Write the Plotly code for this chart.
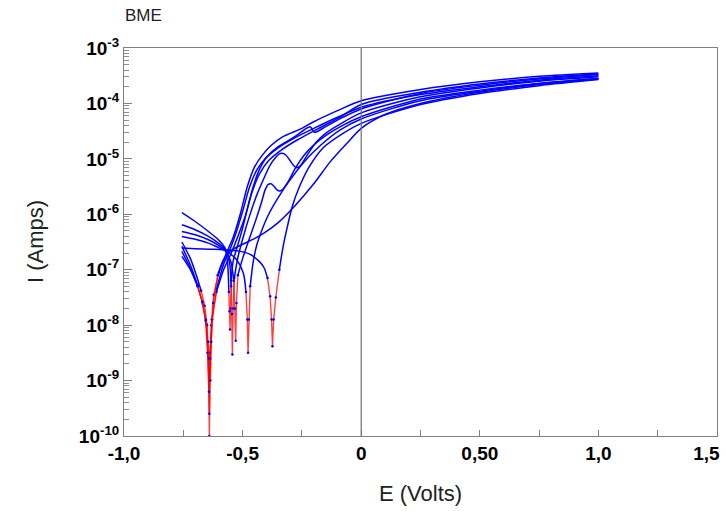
import plotly.graph_objects as go

# potential (V) and log10 of current (A), one pair per scan
E_c1 = [-0.756, -0.72, -0.69, -0.668, -0.653, -0.645, -0.640, -0.637, -0.632, -0.622, -0.60, -0.57,
        -0.54, -0.51, -0.48, -0.45, -0.42, -0.38, -0.33, -0.25, -0.20, -0.10, 0.0, 0.25, 0.50, 0.75, 1.0]
LOGI_c1 = [-6.58, -6.92, -7.28, -7.62, -7.98, -8.55, -10.0, -8.7, -8.0, -7.45, -7.05, -6.72,
           -6.42, -6.0, -5.5, -5.15, -4.95, -4.76, -4.6, -4.45, -4.33, -4.13, -3.95, -3.75, -3.61, -3.51, -3.45]

E_c2 = [-0.756, -0.72, -0.695, -0.675, -0.66, -0.65, -0.644, -0.640, -0.636, -0.628, -0.61, -0.58,
        -0.55, -0.525, -0.50, -0.47, -0.44, -0.40, -0.35, -0.28, -0.215, -0.198, -0.15, -0.10, 0.0,
        0.25, 0.50, 0.75, 1.0]
LOGI_c2 = [-6.50, -6.8, -7.1, -7.38, -7.65, -8.0, -8.6, -9.6, -8.6, -7.9, -7.35, -6.9,
           -6.6, -6.3, -5.95, -5.5, -5.2, -4.97, -4.78, -4.6, -4.42, -4.52, -4.42, -4.3, -4.1,
           -3.82, -3.67, -3.56, -3.48]

E_c3 = [-0.756, -0.72, -0.69, -0.67, -0.656, -0.648, -0.642, -0.638, -0.63, -0.61, -0.58, -0.55,
        -0.52, -0.49, -0.46, -0.43, -0.39, -0.34, -0.27, -0.18, -0.09, 0.0, 0.25, 0.50, 0.75, 1.0]
LOGI_c3 = [-6.76, -7.0, -7.28, -7.58, -7.92, -8.5, -9.2, -8.5, -7.9, -7.4, -7.0, -6.72,
           -6.4, -6.05, -5.6, -5.28, -5.03, -4.85, -4.66, -4.45, -4.25, -4.02, -3.8, -3.65, -3.54, -3.47]

E_c4 = [-0.756, -0.72, -0.69, -0.67, -0.655, -0.645, -0.640, -0.636, -0.632, -0.624, -0.605, -0.58,
        -0.55, -0.50, -0.45, -0.41, -0.35, -0.28, -0.20, -0.13, -0.06, 0.0, 0.10, 0.25, 0.50, 0.75, 1.0]
LOGI_c4 = [-6.67, -6.98, -7.3, -7.58, -7.9, -8.3, -8.6, -9.0, -8.3, -7.6, -7.1, -6.82,
           -6.66, -6.54, -6.44, -6.34, -6.15, -5.85, -5.45, -5.05, -4.72, -4.45, -4.2, -4.0, -3.8, -3.66, -3.56]

E_c5 = [-0.756, -0.70, -0.644, -0.602, -0.574, -0.563, -0.558, -0.555, -0.553, -0.551, -0.548, -0.54,
        -0.52, -0.50, -0.48, -0.455, -0.43, -0.40, -0.35, -0.28, -0.20, -0.10, 0.0, 0.25, 0.50, 0.75, 1.0]
LOGI_c5 = [-5.97, -6.13, -6.31, -6.46, -6.61, -6.9, -7.4, -7.75, -8.08, -7.7, -7.2, -6.85,
           -6.55, -6.25, -5.9, -5.5, -5.2, -4.98, -4.8, -4.62, -4.45, -4.25, -4.07, -3.84, -3.7, -3.58, -3.5]

E_c6 = [-0.756, -0.70, -0.644, -0.602, -0.574, -0.556, -0.548, -0.545, -0.543, -0.540, -0.535, -0.52,
        -0.50, -0.47, -0.44, -0.41, -0.385, -0.36, -0.345, -0.333, -0.318, -0.30, -0.285, -0.272,
        -0.258, -0.24, -0.22, -0.19, -0.15, -0.10, 0.0, 0.25, 0.50, 0.75, 1.0]
LOGI_c6 = [-6.19, -6.28, -6.40, -6.52, -6.63, -6.85, -7.3, -7.8, -8.53, -7.7, -7.15, -6.78,
           -6.45, -6.02, -5.65, -5.35, -5.12, -4.97, -4.91, -4.9, -4.93, -5.03, -5.12, -5.16,
           -5.13, -5.02, -4.88, -4.7, -4.54, -4.4, -4.17, -3.88, -3.72, -3.6, -3.52]

E_c7 = [-0.756, -0.70, -0.644, -0.602, -0.574, -0.55, -0.537, -0.532, -0.529, -0.526, -0.52, -0.50,
        -0.47, -0.44, -0.42, -0.405, -0.392, -0.38, -0.367, -0.355, -0.344, -0.333, -0.32, -0.30,
        -0.275, -0.24, -0.20, -0.15, -0.08, 0.0, 0.25, 0.50, 0.75, 1.0]
LOGI_c7 = [-6.31, -6.37, -6.46, -6.56, -6.65, -6.85, -7.2, -7.7, -8.28, -7.6, -7.1, -6.8,
           -6.42, -6.05, -5.78, -5.56, -5.46, -5.45, -5.5, -5.56, -5.58, -5.56, -5.49, -5.35,
           -5.15, -4.93, -4.75, -4.58, -4.4, -4.24, -3.92, -3.76, -3.64, -3.55]

E_c8 = [-0.756, -0.70, -0.644, -0.602, -0.567, -0.525, -0.497, -0.486, -0.480, -0.477, -0.474, -0.468,
        -0.455, -0.44, -0.42, -0.39, -0.35, -0.30, -0.24, -0.17, -0.09, 0.0, 0.25, 0.50, 0.75, 1.0]
LOGI_c8 = [-6.40, -6.45, -6.52, -6.60, -6.67, -6.82, -7.06, -7.4, -7.9, -8.5, -7.9, -7.3,
           -6.85, -6.55, -6.3, -6.0, -5.7, -5.38, -5.05, -4.75, -4.48, -4.28, -3.95, -3.78, -3.64, -3.55]

E_c9 = [-0.756, -0.70, -0.64, -0.58, -0.52, -0.47, -0.43, -0.41, -0.395, -0.384, -0.378, -0.374,
        -0.369, -0.36, -0.345, -0.33, -0.31, -0.29, -0.26, -0.22, -0.16, -0.08, 0.0, 0.25, 0.50, 0.75, 1.0]
LOGI_c9 = [-6.61, -6.62, -6.63, -6.64, -6.66, -6.72, -6.85, -6.96, -7.15, -7.48, -7.9, -8.38,
           -7.9, -7.5, -7.0, -6.6, -6.2, -5.85, -5.5, -5.15, -4.8, -4.55, -4.36, -4.02, -3.82, -3.68, -3.57]

CURVES = [(E_c1, LOGI_c1), (E_c2, LOGI_c2), (E_c3, LOGI_c3), (E_c4, LOGI_c4), (E_c5, LOGI_c5),
          (E_c6, LOGI_c6), (E_c7, LOGI_c7), (E_c8, LOGI_c8), (E_c9, LOGI_c9)]

X_TICKS = [-1.0, -0.5, 0.0, 0.5, 1.0, 1.5]
X_LABELS = ["-1,0", "-0,5", "0", "0,50", "1,0", "1,5"]
Y_DECADES = [-10, -9, -8, -7, -6, -5, -4, -3]

BLUE = "#0000ff"
RED = "rgba(255,0,0,0.75)"

fig = go.Figure()

for e, lg in CURVES:
    cur = [10 ** v for v in lg]
    low = [k for k, v in enumerate(lg) if v < -7.4]
    a, b = low[0] - 1, low[-1] + 1
    # cathodic and anodic branches, smooth
    for s in (slice(0, a + 1), slice(b, len(e))):
        fig.add_trace(go.Scatter(x=e[s], y=cur[s], mode="lines",
                                 line=dict(color=BLUE, width=1.5, shape="spline", smoothing=0.8),
                                 hoverinfo="skip", showlegend=False))
    # the dip around Ecorr, red line with blue points
    fig.add_trace(go.Scatter(x=e[a:b + 1], y=cur[a:b + 1], mode="lines+markers",
                             line=dict(color=RED, width=1.4),
                             marker=dict(color=BLUE, size=2.5),
                             hoverinfo="skip", showlegend=False))

minor_vals = [m * 10 ** d for d in Y_DECADES[:-1] for m in range(2, 10)]

# last x label is pulled in from the window edge with trailing blanks
x_text = ["<b>%s</b>" % t for t in X_LABELS]
x_text[-1] = x_text[-1] + "\u00a0" * 4

fig.update_layout(
    width=726, height=511,
    margin=dict(l=124, r=9, t=48, b=75),
    paper_bgcolor="white", plot_bgcolor="white",
    font=dict(family="Liberation Sans, Arial, sans-serif", color="black"),
    shapes=[dict(type="line", xref="x", yref="paper", x0=0, x1=0, y0=0, y1=1,
                 line=dict(color="#707070", width=1.2))],
    annotations=[
        dict(text="BME", xref="paper", yref="paper", x=-0.002, y=1.0, yshift=33,
             xanchor="left", yanchor="middle", showarrow=False, font=dict(size=17, color="#222")),
        dict(text="I (Amps)", xref="paper", yref="paper", x=0, xshift=-89, y=0.5,
             textangle=-90, xanchor="center", yanchor="middle", showarrow=False,
             font=dict(size=22, color="#222")),
        dict(text="E (Volts)", xref="paper", yref="paper", x=0.5, y=0, yshift=-57,
             xanchor="center", yanchor="middle", showarrow=False,
             font=dict(size=22, color="#222")),
    ],
)

fig.update_xaxes(
    range=[-1.0, 1.5], tickmode="array", tickvals=X_TICKS, ticktext=x_text,
    tickfont=dict(size=19), ticks="inside", ticklen=6, tickcolor="#808080",
    ticklabeloverflow="allow", automargin=False,
    minor=dict(tickmode="array", tickvals=[-0.75, -0.25, 0.25, 0.75, 1.25],
               ticks="inside", ticklen=6, tickcolor="#808080"),
    showline=True, linecolor="#808080", linewidth=1, mirror=True,
    showgrid=False, zeroline=False,
)

fig.update_yaxes(
    type="log", range=[-10, -3], tickmode="array",
    tickvals=[10 ** d for d in Y_DECADES],
    ticktext=["<b>10<sup>%d</sup></b>" % d for d in Y_DECADES],
    tickfont=dict(size=19), ticks="inside", ticklen=8, tickcolor="#808080",
    ticklabeloverflow="allow", automargin=False,
    minor=dict(tickmode="array", tickvals=minor_vals, ticks="inside", ticklen=5,
               tickcolor="#909090"),
    showline=True, linecolor="#808080", linewidth=1, mirror=True,
    showgrid=False, zeroline=False,
)

# drop the default page margin so the figure sits at the window's corner
fig.write_html("out.html", config={"displayModeBar": False},
               post_script="document.body.style.margin='0';document.body.style.overflow='hidden';")
